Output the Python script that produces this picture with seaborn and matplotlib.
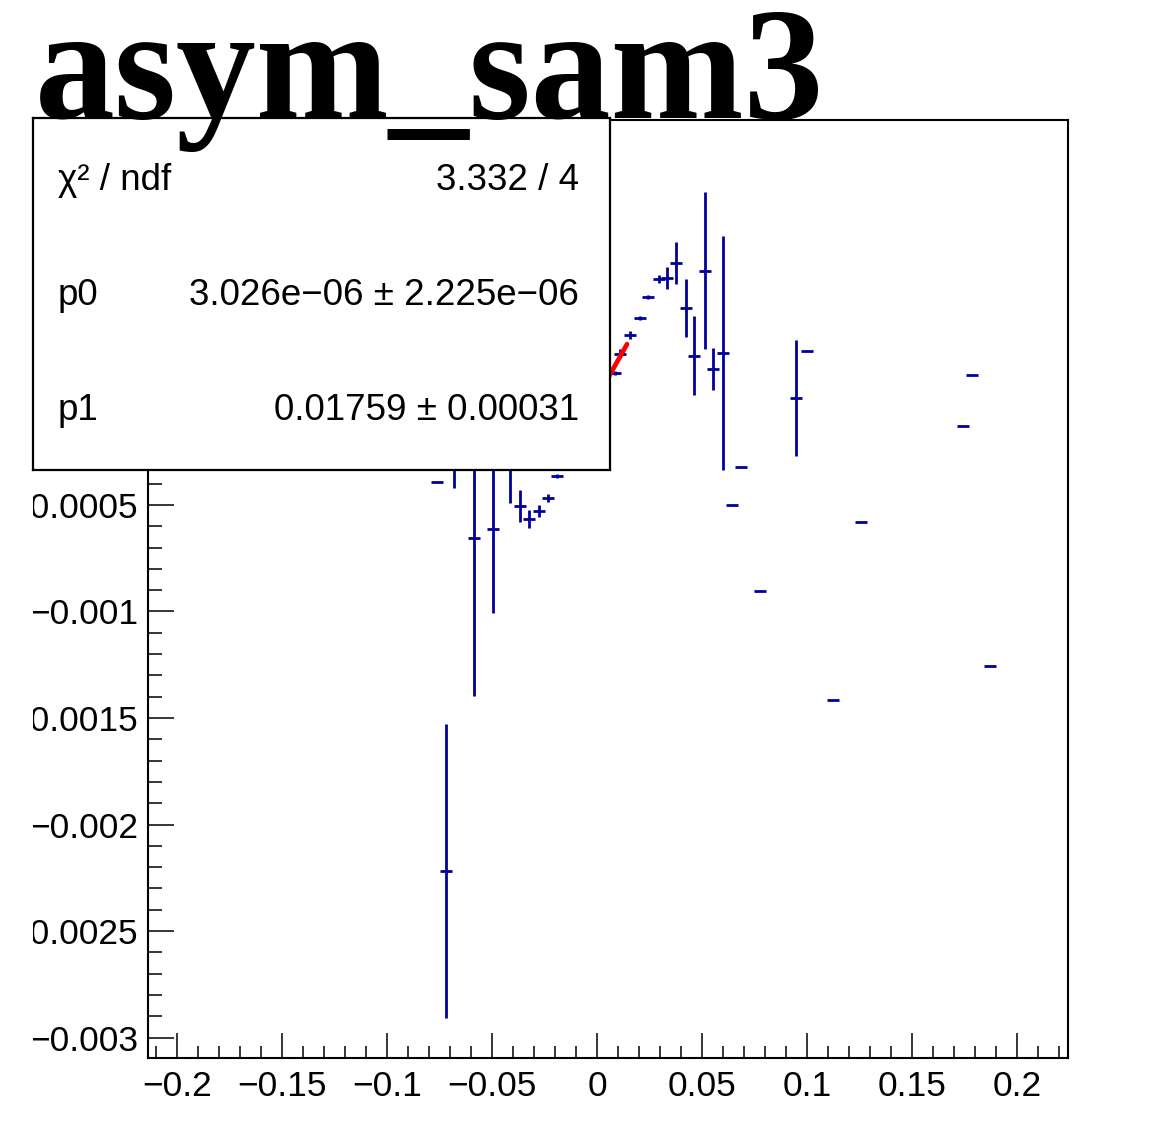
import numpy as np
import pandas as pd
import seaborn as sns
import matplotlib.pyplot as plt
from matplotlib.ticker import MultipleLocator
from matplotlib.transforms import Bbox, TransformedBbox

# points
x_vals = [-0.0762, -0.068, -0.0719, -0.0586, -0.0495, -0.0414, -0.0367, -0.0324,
          -0.0276, -0.0233, -0.019, 0.0086, 0.011, 0.0157, 0.0205, 0.0243, 0.0295,
          0.0333, 0.0376, 0.0424, 0.0462, 0.0514, 0.0552, 0.06, 0.0686, 0.0643,
          0.0776, 0.0948, 0.1, 0.1124, 0.1257, 0.1743, 0.1786, 0.1871]
y_vals = [-0.00039, -0.000265, -0.00222, -0.000655, -0.000613, -0.000326, -0.000505,
          -0.000566, -0.000528, -0.000467, -0.000364, 0.00012, 0.00021, 0.000298,
          0.000378, 0.000477, 0.00056, 0.000566, 0.000636, 0.000425, 0.0002, 0.0006,
          0.000138, 0.000214, -0.00032, -0.0005, -0.000904, 0.0, 0.000223, -0.001415,
          -0.00058, -0.000129, 0.00011, -0.001256]
y_errs = [0, 0.000155, 0.00069, 0.00074, 0.000394, 0.000165, 0.000077, 0.00004,
          0.00003, 0.00002, 0.00001, 0.00001, 0.00002, 0.00002, 0.00001, 0.00001,
          0.00002, 0.00005, 0.0001, 0.000136, 0.000186, 0.00037, 0.0001, 0.00055,
          0, 0, 0, 0.000272, 0, 0, 0, 0, 0, 0]
x_err = 0.0028

# fit result
p0 = 3.026e-06
p1 = 0.01759
fit_range = [-0.0143, 0.0143]

x_ticks = [-0.2, -0.15, -0.1, -0.05, 0, 0.05, 0.1, 0.15, 0.2]
x_labels = ['\u22120.2', '\u22120.15', '\u22120.1', '\u22120.05', '0', '0.05', '0.1', '0.15', '0.2']
y_ticks = [-0.003, -0.0025, -0.002, -0.0015, -0.001, -0.0005, 0, 0.0005, 0.001]
# the top three sit behind the stats box
y_labels = ['\u22120.003', '\u22120.0025', '\u22120.002', '\u22120.0015', '\u22120.001',
            '\u22120.0005', '', '', '']

sns.set_theme(style="white")
plt.rcParams['font.family'] = ['Liberation Sans', 'DejaVu Sans']
plt.rcParams['text.color'] = 'black'
plt.rcParams['xtick.color'] = 'black'
plt.rcParams['ytick.color'] = 'black'

W, H = 1152, 1128
fig = plt.figure(figsize=(W / 100, H / 100), dpi=100)
ax = fig.add_axes([148 / W, 1 - 1058 / H, (1068 - 148) / W, (1058 - 120) / H])

df = pd.DataFrame({'x': x_vals, 'y': y_vals, 'yerr': y_errs})
ax.errorbar(df['x'], df['y'], yerr=df['yerr'], xerr=x_err, fmt='none',
            ecolor='#00009a', elinewidth=2.0, capsize=0, zorder=3)

fx = np.linspace(fit_range[0], fit_range[1], 50)
fit_df = pd.DataFrame({'x': fx, 'y': p0 + p1 * fx})
sns.lineplot(data=fit_df, x='x', y='y', color='red', linewidth=3.4, ax=ax, zorder=4)

ax.set_xlim(-0.2138, 0.2243)
ax.set_ylim(-0.003096, 0.001307)
ax.set_xticks(x_ticks)
ax.set_xticklabels(x_labels)
ax.set_yticks(y_ticks)
ax.set_yticklabels(y_labels)
ax.xaxis.set_minor_locator(MultipleLocator(0.01))
ax.yaxis.set_minor_locator(MultipleLocator(0.0001))
ax.tick_params(axis='x', which='major', direction='in', length=18, width=1.1,
               labelsize=25.5, pad=9, bottom=True, top=False)
ax.tick_params(axis='x', which='minor', direction='in', length=9, width=1.1,
               bottom=True, top=False)
ax.tick_params(axis='y', which='major', direction='in', length=19, width=1.1,
               labelsize=25.5, pad=7, left=True, right=False)
ax.tick_params(axis='y', which='minor', direction='in', length=10, width=1.1,
               left=True, right=False)
ax.set_xlabel('')
ax.set_ylabel('')
for s in ax.spines.values():
    s.set_color('black')
    s.set_linewidth(1.5)

# ROOT cuts the long labels at the pad edge
clip = TransformedBbox(Bbox([[33 / W, 0], [1, 1]]), fig.transFigure)
for lab in ax.get_yticklabels():
    lab.set_clip_on(True)
    lab.set_clip_box(clip)

# stats box
box = fig.add_axes([33 / W, 1 - 470 / H, (610 - 33) / W, (470 - 118) / H], zorder=10)
box.set_facecolor('white')
box.set_xticks([])
box.set_yticks([])
box.set_xlim(0, 1)
box.set_ylim(0, 1)
for s in box.spines.values():
    s.set_color('black')
    s.set_linewidth(1.6)
rows = [('\u03c7\u00b2 / ndf', '3.332 / 4'),
        ('p0', '3.026e\u221206 \u00b1 2.225e\u221206'),
        ('p1', '0.01759 \u00b1 0.00031')]
row_y = [180, 295, 410]
for (left, right), py in zip(rows, row_y):
    yy = (470 - py) / (470 - 118)
    box.text((58 - 33) / (610 - 33), yy, left, fontsize=26.5, ha='left', va='center')
    box.text((579 - 33) / (610 - 33), yy, right, fontsize=26.5, ha='right', va='center')

fig.text(35 / W, 1 - 118 / H, 'asym_sam3', family='Liberation Serif', fontweight='bold',
         fontsize=115, color='black', ha='left', va='baseline', zorder=20)

fig.savefig('out.png', dpi=100, facecolor='white')
